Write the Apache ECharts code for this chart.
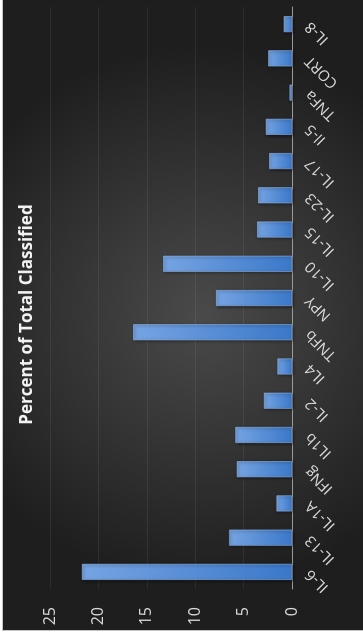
<!DOCTYPE html>
<html lang="en">
<head>
    <meta charset="UTF-8">
    <title>Percent of Total Classified</title>
    <script type="text/javascript" src="https://cdn.jsdelivr.net/npm/echarts@6/dist/echarts.min.js"></script>
    <style>
        html, body { margin: 0; padding: 0; background: #fff; overflow: hidden; }
        /* chart is drawn landscape, then turned a quarter to the left like the picture */
        #frame {
            position: absolute; left: 0; top: 0;
            width: 631px; height: 361px;
            border-top: 1px solid #c4c4c4; border-left: 1px solid #c4c4c4;
            transform-origin: 0 0;
            transform: translate(2px, 631px) rotate(-90deg);
        }
        #chart { width: 631px; height: 361px; }
    </style>
</head>
<body>
<div id="frame"><div id="chart"></div></div>
<script type="text/javascript">
    var categories = ['IL-6', 'IL-13', 'IL-1A', 'IFNg', 'IL1b', 'IL-2', 'IL4', 'TNFb', 'NPY',
        'IL-10', 'IL-15', 'IL-23', 'IL-17', 'Il-5', 'TNFa', 'CORT', 'IL-8'];
    var percent = [21.7, 6.5, 1.6, 5.7, 5.85, 2.9, 1.5, 16.4, 7.85,
        13.3, 3.6, 3.5, 2.35, 2.7, 0.25, 2.45, 0.85];
    var valueTicks = [0, 5, 10, 15, 20, 25];

    var chart = echarts.init(document.getElementById('chart'));
    var option = {
        backgroundColor: new echarts.graphic.RadialGradient(0.5, 0.55, 0.75, [
            { offset: 0, color: '#4a4a4a' },
            { offset: 1, color: '#1e1e1e' }
        ]),
        animation: false,
        title: {
            text: 'Percent of Total Classified',
            left: 'center',
            top: 11,
            textStyle: { color: '#f2f2f2', fontFamily: 'Open Sans', fontWeight: 'bold', fontSize: 17 }
        },
        grid: { left: 41, right: 8, top: 47, bottom: 72 },
        xAxis: {
            type: 'category',
            data: categories,
            axisTick: { show: false },
            axisLine: { lineStyle: { color: '#9a9a9a', width: 1 } },
            axisLabel: {
                rotate: 45,
                interval: 0,
                margin: 16,
                color: '#d9d9d9',
                fontFamily: 'Open Sans',
                fontSize: 15
            }
        },
        yAxis: {
            type: 'value',
            min: valueTicks[0],
            max: valueTicks[valueTicks.length - 1],
            interval: 5,
            axisLine: { show: false },
            axisTick: { show: false },
            splitLine: { lineStyle: { color: 'rgba(255,255,255,0.07)' } },
            axisLabel: { margin: 18, color: '#d9d9d9', fontFamily: 'Open Sans', fontSize: 16 }
        },
        series: [{
            type: 'bar',
            data: percent,
            barWidth: 16,
            itemStyle: {
                color: new echarts.graphic.LinearGradient(0, 0, 0, 1, [
                    { offset: 0, color: '#76a4e2' },
                    { offset: 1, color: '#3b78c9' }
                ]),
                borderColor: '#8fb5ea',
                borderWidth: 0.6,
                shadowColor: 'rgba(0,0,0,0.55)',
                shadowBlur: 3,
                shadowOffsetX: -1,
                shadowOffsetY: 1
            }
        }]
    };
    chart.setOption(option);
</script>
</body>
</html>
